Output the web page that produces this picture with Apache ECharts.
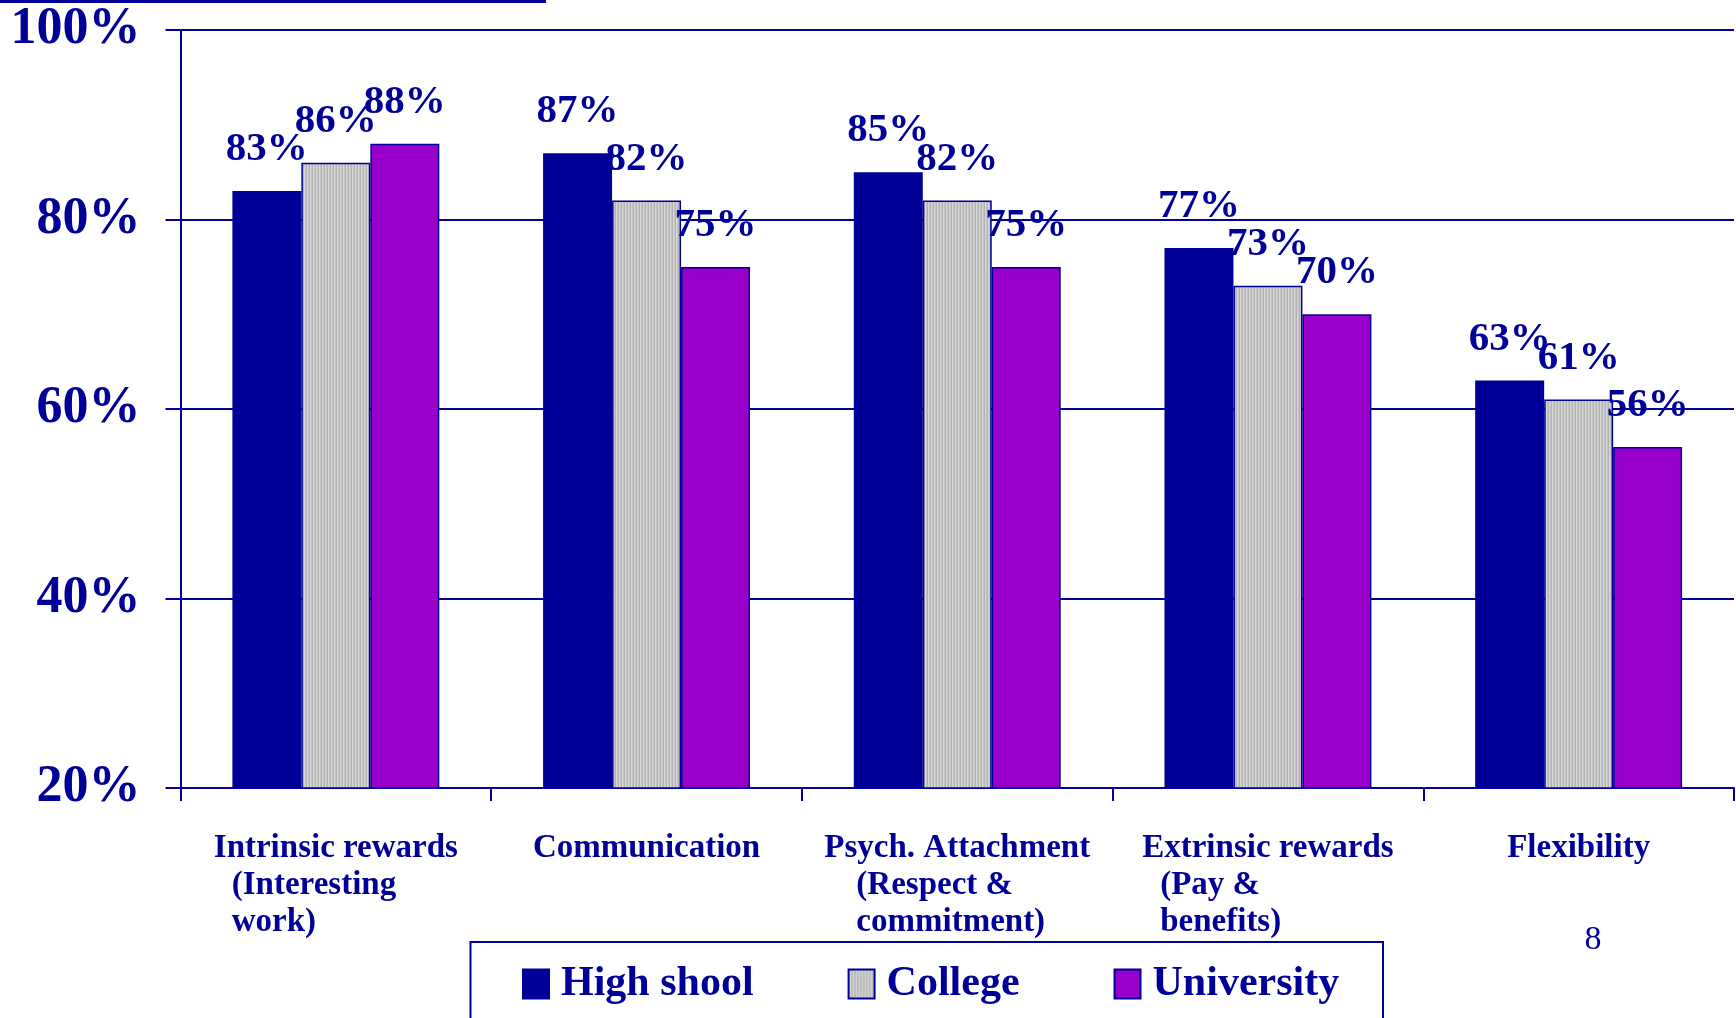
<!DOCTYPE html>
<html>
<head>
<meta charset="utf-8">
<title>Work values by education level</title>
<script src="https://cdn.jsdelivr.net/npm/echarts@6/dist/echarts.min.js"></script>
<style>
  html, body { margin: 0; padding: 0; background: #ffffff; }
  #chart { width: 1736px; height: 1018px; }
</style>
</head>
<body>
<div id="chart"></div>
<script>
// Category names, one entry per line of the axis label
const categoryLines = [
  ['Intrinsic rewards', '(Interesting', 'work)'],
  ['Communication'],
  ['Psych. Attachment', '(Respect &', 'commitment)'],
  ['Extrinsic rewards', '(Pay &', 'benefits)'],
  ['Flexibility']
];
const categories = categoryLines.map(l => l.join('\n'));

const seriesNames = ['High shool', 'College', 'University'];
const highSchool = [83, 87, 85, 77, 63];
const college    = [86, 82, 82, 73, 61];
const university = [88, 75, 75, 70, 56];

const yTicks = [20, 40, 60, 80, 100];

const NAVY = '#000099';
const PURPLE = '#9900CC';
const FONT = '"Liberation Serif", "Times New Roman", serif';

// fine vertical grey stripes for the College bars
function stripePattern() {
  const c = document.createElement('canvas');
  c.width = 3; c.height = 4;
  const g = c.getContext('2d');
  ['#b2b2b2', '#d8d8d8', '#c5c5c5'].forEach((col, i) => {
    g.fillStyle = col;
    g.fillRect(i, 0, 1, 4);
  });
  return c;
}

// extra indent for continuation lines of each axis label
const lineIndent = [18, 0, 32, 18, 0];
const labelRich = { h: { align: 'left', lineHeight: 37 } };
lineIndent.forEach((pad, i) => {
  labelRich['s' + i] = { align: 'left', lineHeight: 37, padding: [0, 0, 0, pad] };
});

const chart = echarts.init(document.getElementById('chart'), null, { renderer: 'canvas' });

const barLabel = {
  show: true,
  position: 'top',
  distance: 21,
  formatter: '{c}%',
  color: NAVY,
  fontFamily: FONT,
  fontWeight: 'bold',
  fontSize: 41
};

function barSeries(name, data, fill) {
  return {
    name: name,
    type: 'bar',
    data: data,
    barGap: '0%',
    barCategoryGap: '33.4%',
    itemStyle: { color: fill, borderColor: NAVY, borderWidth: 1.5 },
    label: barLabel,
    emphasis: { disabled: true }
  };
}

chart.setOption({
  animation: false,
  backgroundColor: '#ffffff',
  grid: { left: 180.5, right: 2, top: 30, bottom: 230, containLabel: false },
  legend: {
    data: seriesNames,
    left: 522,
    top: 963,
    padding: 0,
    itemWidth: 26,
    itemHeight: 29,
    itemGap: 94,
    icon: 'rect',
    textStyle: {
      color: NAVY,
      fontFamily: FONT,
      fontWeight: 'bold',
      fontSize: 42,
      padding: [0, 0, 0, 7]
    }
  },
  xAxis: {
    type: 'category',
    data: categories,
    axisLine: { lineStyle: { color: NAVY, width: 2 } },
    axisTick: { show: true, length: 13, lineStyle: { color: NAVY, width: 2 } },
    axisLabel: {
      interval: 0,
      margin: 42,
      color: NAVY,
      fontFamily: FONT,
      fontWeight: 'bold',
      fontSize: 33,
      lineHeight: 37,
      rich: labelRich,
      formatter: (val, idx) => val.split('\n')
        .map((s, i) => (i === 0 ? '{h|' + s + '}' : '{s' + idx + '|' + s + '}'))
        .join('\n')
    }
  },
  yAxis: {
    type: 'value',
    min: yTicks[0],
    max: yTicks[yTicks.length - 1],
    interval: 20,
    axisLine: { show: true, lineStyle: { color: NAVY, width: 2 } },
    axisTick: { show: true, length: 15, lineStyle: { color: NAVY, width: 2 } },
    splitLine: { show: true, lineStyle: { color: NAVY, width: 2 } },
    axisLabel: {
      margin: 40,
      color: NAVY,
      fontFamily: FONT,
      fontWeight: 'bold',
      fontSize: 52,
      formatter: '{value}%'
    }
  },
  series: [
    barSeries(seriesNames[0], highSchool, NAVY),
    barSeries(seriesNames[1], college, { image: stripePattern(), repeat: 'repeat' }),
    barSeries(seriesNames[2], university, PURPLE)
  ],
  graphic: [
    {
      type: 'rect',
      shape: { x: 0, y: 0, width: 546, height: 3 },
      style: { fill: NAVY },
      silent: true
    },
    {
      type: 'rect',
      shape: { x: 470.5, y: 942, width: 912.5, height: 120 },
      style: { fill: 'none', stroke: NAVY, lineWidth: 2 },
      silent: true
    },
    {
      type: 'text',
      x: 1593,
      y: 940,
      style: {
        text: '8',
        fill: NAVY,
        font: '34px ' + FONT,
        textAlign: 'center',
        textVerticalAlign: 'middle'
      },
      silent: true
    }
  ]
});
</script>
</body>
</html>
